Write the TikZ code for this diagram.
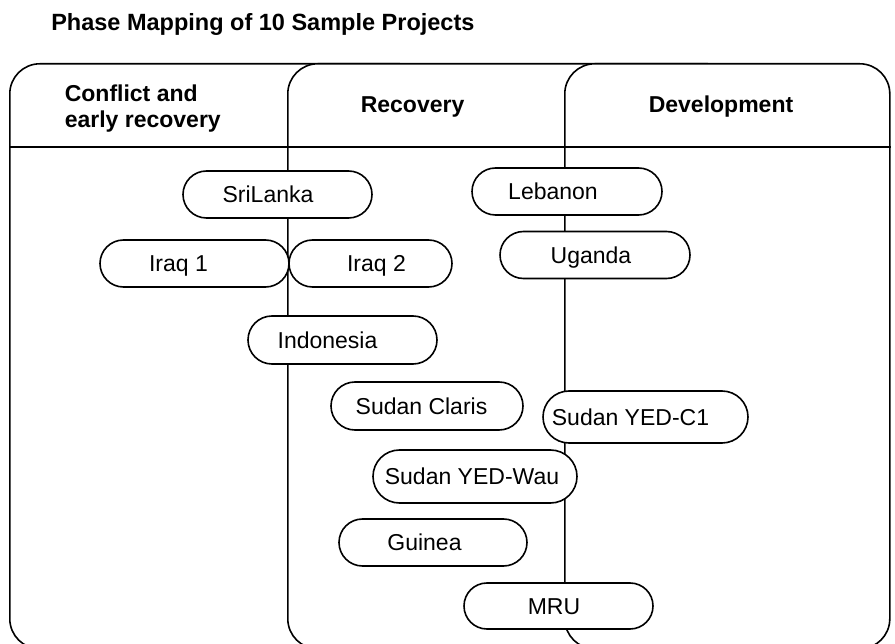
\documentclass[tikz,border=0pt]{standalone}
\usepackage{fontspec}
\setmainfont{Liberation Sans}
\usetikzlibrary{shapes,positioning}

\tikzset{
  phase/.style={draw, rectangle, rounded corners=30pt, fill=white, anchor=north west, minimum height=585pt, inner sep=0pt},
  pill/.style={draw, rounded rectangle, fill=white, minimum height=47pt, inner sep=0pt, text height=16.5pt, text depth=0pt, font=\fontsize{23}{26}\selectfont},
  head/.style={inner sep=0pt, font=\fontsize{23}{26}\selectfont\bfseries}
}

\begin{document}
\begin{tikzpicture}[x=1pt, y=-1pt, line width=1.6pt]
    \useasboundingbox (0,0) rectangle (895,644);
    \clip (0,0) rectangle (895,644);

    % Title
    \node (Title) [head, anchor=base west, font=\fontsize{23.5}{26}\selectfont\bfseries] at (50.5,30.7) {Phase Mapping of 10 Sample Projects};

    % Phase boxes
    \node (Conflict) [phase, minimum width=420pt] at (9,63) {};
    \node (Recovery) [phase, minimum width=450pt] at (287,63) {};
    \node (Development) [phase, minimum width=325pt] at (564,63) {};
    \coordinate (Header) at (0,147);
    \draw (Conflict.west |- Header) -- (Development.east |- Header);

    % Phase labels
    \node (ConflictLabel) [head, anchor=north west, align=left] at (64,84.5) {Conflict and\\early recovery};
    \node (RecoveryLabel) [head, anchor=base west] at (360,113) {Recovery};
    \node (DevelopmentLabel) [head, anchor=base west] at (648,113) {Development};

    % Projects
    \node (SriLanka) [pill, minimum width=189pt] at (277.5,194.5) {SriLanka\kern19pt};
    \node (Iraq1) [pill, minimum width=189pt] at (194.5,263.5) {Iraq 1\kern32pt};
    \node (Iraq2) [pill, minimum width=163pt] at (370.5,263.5) {\kern12pt Iraq 2};
    \node (Lebanon) [pill, minimum width=190pt] at (567,191.5) {Lebanon\kern28pt};
    \node (Uganda) [pill, minimum width=190pt] at (595,255) {Uganda\kern8pt};
    \node (Indonesia) [pill, minimum width=189pt, minimum height=48pt] at (342.5,340) {Indonesia\kern30pt};
    \node (SudanClaris) [pill, minimum width=192pt, minimum height=48pt] at (427,406) {Sudan Claris\kern11pt};
    \node (SudanYEDC1) [pill, minimum width=205pt, minimum height=52pt] at (645.5,417) {Sudan YED-C1\kern30pt};
    \node (SudanYEDWau) [pill, minimum width=204pt, minimum height=53pt] at (475,476.5) {Sudan YED-Wau\kern6pt};
    \node (Guinea) [pill, minimum width=188pt] at (433,542.5) {Guinea\kern17pt};
    \node (MRU) [pill, minimum width=189pt, minimum height=46pt] at (558.5,606) {MRU\kern9pt};
\end{tikzpicture}
\end{document}
